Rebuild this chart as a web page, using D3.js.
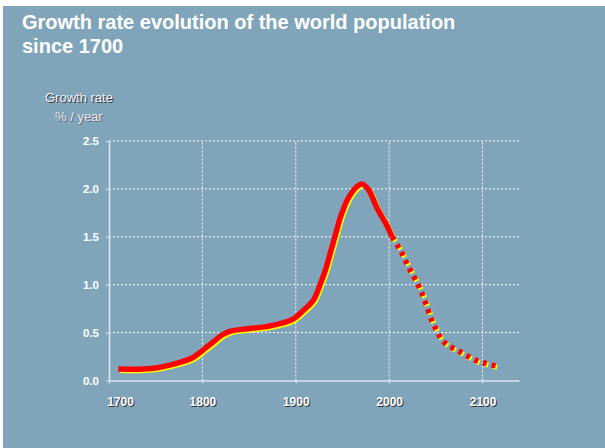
<html>
  <head>
    <title>growth rate</title>
    <script src="https://d3js.org/d3.v7.min.js"></script>
    <style>
      body { margin: 0; background: #fff; }
      svg text { font-family: "Liberation Sans", Arial, sans-serif; }
    </style>
  </head>
  <body>
    <div id='wrapper'></div>
    <script>
      // observed growth rate (% / year)
      var histYears = [1710, 1745, 1776, 1790, 1801, 1812, 1821, 1830, 1848, 1870, 1896, 1908, 1919, 1926, 1932, 1937, 1943, 1948, 1956, 1965, 1971, 1978, 1987, 1998, 2003];
      var histRate  = [0.12, 0.125, 0.19, 0.24, 0.32, 0.405, 0.475, 0.515, 0.54, 0.565, 0.635, 0.73, 0.84, 1.00, 1.16, 1.33, 1.54, 1.71, 1.90, 2.02, 2.05, 1.99, 1.80, 1.61, 1.50];
      // projection
      var projYears = [2003, 2012, 2021, 2031, 2039, 2046, 2051, 2056, 2064, 2074, 2083, 2093, 2103, 2115];
      var projRate  = [1.50, 1.36, 1.18, 1.00, 0.81, 0.62, 0.52, 0.43, 0.36, 0.31, 0.26, 0.21, 0.18, 0.15];

      var xTicks = [1700, 1800, 1900, 2000, 2100];
      var yTicks = [0, 0.5, 1.0, 1.5, 2.0, 2.5];

      var W = 605, H = 448;
      var svg = d3.select("#wrapper").append("svg")
        .attr("width", W).attr("height", H);

      // panel
      svg.append("rect").attr("x", 3).attr("y", 6).attr("width", W - 3).attr("height", H - 6)
        .attr("fill", "#80a5ba");

      svg.append("text").attr("x", 22).attr("y", 29)
        .attr("fill", "#fff").style("font-size", "20px").style("font-weight", "bold")
        .text("Growth rate evolution of the world population");
      svg.append("text").attr("x", 22).attr("y", 53)
        .attr("fill", "#fff").style("font-size", "20px").style("font-weight", "bold")
        .text("since 1700");

      var labStyle = "text-shadow: 1px 1px 0 #333";
      svg.append("text").attr("x", 45).attr("y", 102)
        .attr("fill", "#eef2f5").attr("style", "font-size:13px;" + labStyle)
        .text("Growth rate");
      svg.append("text").attr("x", 55).attr("y", 121)
        .attr("fill", "#e4eaee").attr("style", "font-size:13px;text-shadow: 1px 1px 0 #667")
        .text("% / year");

      var xScale = d3.scaleLinear().domain([1700, 2139]).range([109, 519]);
      var yScale = d3.scaleLinear().domain([0, 2.5]).range([380.5, 141]);

      // grid
      svg.append("g").selectAll("line").data(yTicks.slice(1)).join("line")
        .attr("x1", xScale(1700)).attr("x2", xScale(2139))
        .attr("y1", function(d) { return yScale(d); }).attr("y2", function(d) { return yScale(d); })
        .attr("stroke", "#fff").attr("stroke-dasharray", "2,2");
      svg.append("g").selectAll("line").data(xTicks.slice(1)).join("line")
        .attr("x1", function(d) { return xScale(d); }).attr("x2", function(d) { return xScale(d); })
        .attr("y1", yScale(0)).attr("y2", yScale(2.5))
        .attr("stroke", "#fff").attr("stroke-dasharray", "2,2");

      // axes
      var xAxis = d3.axisBottom(xScale).tickValues(xTicks).tickFormat(d3.format("d"))
        .tickSize(3).tickSizeOuter(0).tickPadding(14);
      var gx = svg.append("g").attr("transform", "translate(0," + yScale(0) + ")").call(xAxis);
      gx.selectAll("text").attr("fill", "#fff").attr("style", "font-size:12px;font-weight:bold;" + labStyle);
      gx.selectAll("text").filter(function(d) { return d == 1700; }).attr("dx", 11);

      var yAxis = d3.axisLeft(yScale).tickValues(yTicks).tickFormat(d3.format(".1f"))
        .tickSize(3).tickSizeOuter(0).tickPadding(7);
      var gy = svg.append("g").attr("transform", "translate(" + xScale(1700) + ",0)").call(yAxis);
      gy.selectAll("text").attr("fill", "#fff").attr("style", "font-size:11.5px;font-weight:bold");

      svg.selectAll(".domain").attr("stroke", "#dde6ec").attr("stroke-width", 1.5);
      svg.selectAll(".tick line").attr("stroke", "#dde6ec");

      // curve
      var hist = histYears.map(function(y, i) { return [y, histRate[i]]; });
      var proj = projYears.map(function(y, i) { return [y, projRate[i]]; });
      var line = d3.line()
        .x(function(d) { return xScale(d[0]); })
        .y(function(d) { return yScale(d[1]); })
        .curve(d3.curveCatmullRom.alpha(0.5));

      function drawCurve(data, dash) {
        svg.append("path").attr("d", line(data))
          .attr("transform", "translate(1.5,1.5)")
          .attr("fill", "none").attr("stroke", "#ffff00").attr("stroke-width", 5)
          .attr("stroke-dasharray", dash);
        svg.append("path").attr("d", line(data))
          .attr("fill", "none").attr("stroke", "#ff0000").attr("stroke-width", 5.5)
          .attr("stroke-linejoin", "round")
          .attr("stroke-dasharray", dash);
      }
      drawCurve(hist, null);
      drawCurve(proj, "4,5");
    </script>
  </body>
</html>
